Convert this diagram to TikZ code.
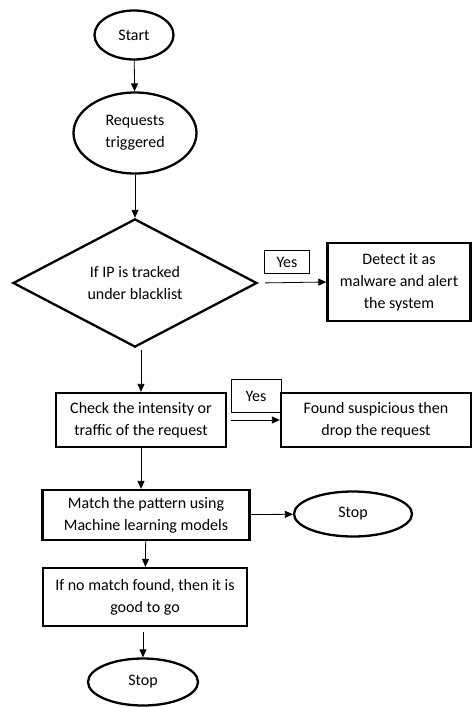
\documentclass[tikz,border=0pt]{standalone}
\usepackage{fontspec}
\setmainfont{Carlito}
\usetikzlibrary{shapes.geometric,arrows.meta}

\begin{document}
\begin{tikzpicture}[x=1pt, y=-1pt,
  font=\fontsize{16}{22}\selectfont,
  term/.style={shape=ellipse, draw=black, line width=2.3pt, align=center, inner sep=0pt},
  proc/.style={shape=rectangle, draw=black, line width=2.3pt, align=center, inner sep=0pt},
  cond/.style={shape=diamond, draw=black, line width=2.3pt, align=center, inner sep=0pt},
  tag/.style={shape=rectangle, draw=black, line width=0.6pt, inner sep=0pt},
  arr/.style={-{Triangle[length=8pt,width=7pt]}, line width=0.8pt}]
\useasboundingbox (0,0) rectangle (473,707);
\node[term, minimum width=79pt, minimum height=49pt] (start) at (134,35) {Start};
\node[term, minimum width=123pt, minimum height=81pt] (req) at (135,133) {Requests\\triggered};
\node[cond, minimum width=244pt, minimum height=122pt] (ifip) at (135,283) {If IP is tracked\\under blacklist};
\node[tag, minimum width=45pt, minimum height=23pt] (yes1) at (287,262) {Yes};
\node[proc, minimum width=143pt, minimum height=78pt] (detect) at (399,282) {Detect it as\\malware and alert\\the system};
\node[proc, minimum width=170pt, minimum height=54pt] (check) at (141,420) {Check the intensity or\\traffic of the request};
\node[tag, minimum width=50pt, minimum height=33pt] (yes2) at (256,396) {Yes};
\node[proc, minimum width=190pt, minimum height=54pt] (found) at (376,420) {Found suspicious then\\drop the request};
\node[proc, minimum width=207pt, minimum height=50pt] (match) at (146,515) {Match the pattern using\\Machine learning models};
\node[term, minimum width=118pt, minimum height=45pt] (stopA) at (353,514) {Stop};
\node[proc, minimum width=204pt, minimum height=58pt] (nomatch) at (145,597) {If no match found, then it is\\good to go};
\node[term, minimum width=110pt, minimum height=47pt] (stopB) at (143,682) {Stop};
\draw[arr] (start) -- (req);
\draw[arr] (req) -- (ifip);
\draw[arr, shorten <=7pt] (ifip.east) -- (detect.west);
\draw[arr, shorten <=2pt] (ifip.south -| check.north) -- (check.north);
\draw[arr, shorten <=4pt] (check) -- (found);
\draw[arr] (check.south) -- (check.south |- match.north);
\draw[arr] (match) -- (stopA);
\draw[arr] (match) -- (nomatch);
\draw[arr, shorten <=5pt] (nomatch.south -| stopB.north) -- (stopB.north);
\end{tikzpicture}
\end{document}
